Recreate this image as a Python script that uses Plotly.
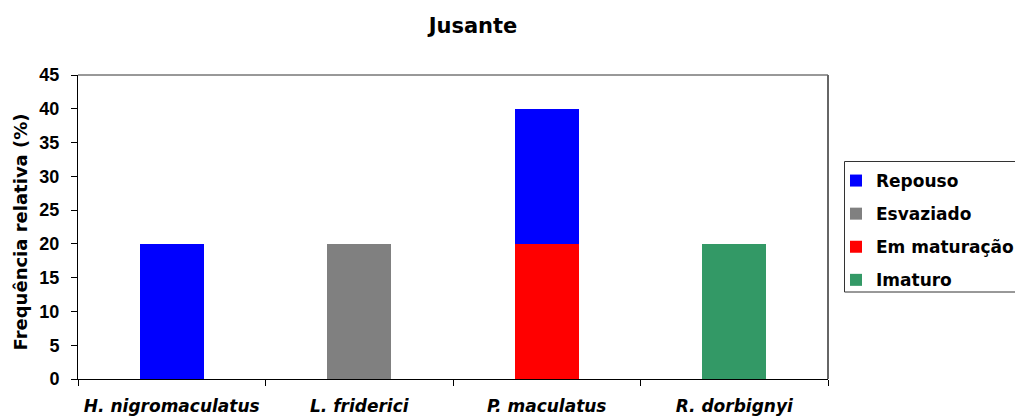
import plotly.graph_objects as go

# Species (x categories) and maturation stage frequencies (%)
species = ["H. nigromaculatus", "L. friderici", "P. maculatus", "R. dorbignyi"]
imaturo = [0, 0, 0, 20]
em_maturacao = [0, 0, 20, 0]
esvaziado = [0, 20, 0, 0]
repouso = [20, 0, 20, 0]

y_ticks = [0, 5, 10, 15, 20, 25, 30, 35, 40, 45]

W, H = 1015, 419
PLOT_L, PLOT_R, PLOT_T, PLOT_B = 78, 828, 75, 379
ARIAL = "Liberation Sans, Arial, sans-serif"
WIDE = "DejaVu Sans, Verdana, sans-serif"

# stacked bottom-up; legend rank lists the top segment first
series = [
    ("Imaturo", imaturo, "#339966", 4),
    ("Em maturação", em_maturacao, "#FF0000", 3),
    ("Esvaziado", esvaziado, "#808080", 2),
    ("Repouso", repouso, "#0000FF", 1),
]

fig = go.Figure()
for name, vals, color, rank in series:
    fig.add_trace(go.Bar(
        x=species, y=vals, name=name, legendgroup=name, legendrank=rank,
        marker=dict(color=color, line=dict(width=0)),
        width=0.34,
    ))

pw = PLOT_R - PLOT_L
ph = PLOT_B - PLOT_T


def px_x(px):
    return (px - PLOT_L) / pw


def px_y(py):
    return (PLOT_B - py) / ph


fig.update_layout(
    width=W, height=H, autosize=False,
    barmode="stack",
    plot_bgcolor="white", paper_bgcolor="white",
    margin=dict(l=PLOT_L, r=W - PLOT_R, t=PLOT_T, b=H - PLOT_B, autoexpand=False),
    font=dict(family=ARIAL, color="black"),
    title=dict(
        text="<b>Jusante</b>", x=473 / W, xanchor="center", xref="container",
        y=1 - 26 / H, yanchor="middle", yref="container",
        font=dict(size=21, family=WIDE, color="black"),
    ),
    legend=dict(
        traceorder="grouped", tracegroupgap=8,
        xref="container", yref="container",
        x=836 / W, y=1 - 163 / H, xanchor="left", yanchor="top",
        borderwidth=0, bgcolor="rgba(0,0,0,0)",
        font=dict(size=17, family=WIDE, color="black", weight="bold"),
    ),
    bargap=0,
)

fig.update_xaxes(
    type="category", range=[-0.5, 3.5], automargin=False,
    tickson="boundaries", ticks="outside", ticklen=6, tickcolor="black",
    ticklabelstandoff=12,
    showline=True, linecolor="black", linewidth=1, mirror=False,
    showgrid=False,
    tickfont=dict(size=17, family=WIDE, color="black", weight="bold", style="italic"),
)
fig.update_yaxes(
    range=[0, 45], tickvals=y_ticks, ticks="outside", ticklen=6, tickcolor="black",
    ticklabelstandoff=8, automargin=False,
    showline=True, linecolor="black", linewidth=1,
    showgrid=False, zeroline=False,
    tickfont=dict(size=18, family=ARIAL, color="black", weight="bold"),
)

# y-axis title
fig.add_annotation(
    text="<b>Frequência relativa (%)</b>", textangle=-90,
    xref="paper", yref="paper", x=px_x(20), y=px_y(232.5),
    xanchor="center", yanchor="middle", showarrow=False,
    font=dict(size=18, family=WIDE, color="black"),
)

# plot frame: dark top edge and grey right edge
fig.add_shape(type="line", xref="paper", yref="paper", x0=0, x1=1, y0=1, y1=1,
              line=dict(color="#333333", width=1))
fig.add_shape(type="line", xref="paper", yref="paper", x0=1, x1=1, y0=0, y1=1,
              line=dict(color="#666666", width=2))

# legend frame
fig.add_shape(type="rect", xref="paper", yref="paper",
              x0=px_x(844.5), x1=px_x(1030), y0=px_y(292), y1=px_y(161.5),
              line=dict(color="#333333", width=1), fillcolor="rgba(0,0,0,0)",
              layer="above")

fig.write_html("out.html")
